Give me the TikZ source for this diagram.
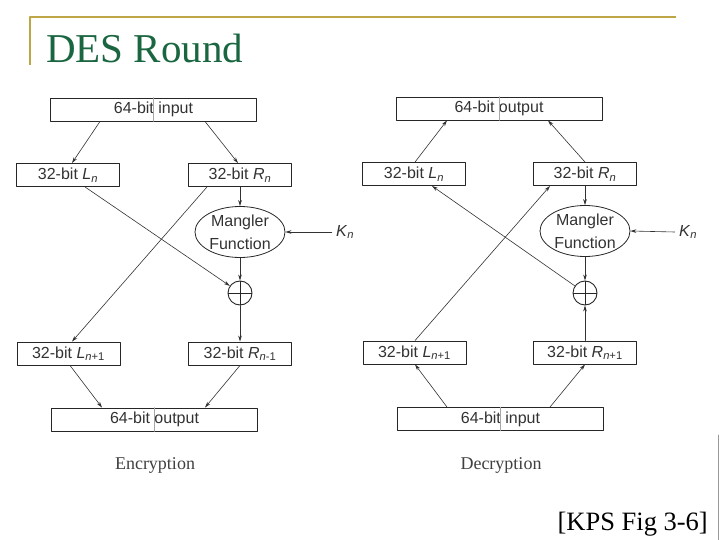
\documentclass[tikz,border=0pt]{standalone}
\usepackage{fontspec}
\setmainfont{Liberation Serif}
\setsansfont{Liberation Sans}
\usetikzlibrary{arrows.meta,shapes.geometric}
\definecolor{titlegreen}{RGB}{26,102,64}
\definecolor{slidegold}{RGB}{190,165,70}
\definecolor{scan}{RGB}{50,50,50}
\newcommand\half[2]{\textit{#1}\textsubscript{#2}}

\begin{document}
\begin{tikzpicture}[x=1pt,y=-1pt,line cap=round,line join=round,
    box/.style={draw=black!85,line width=.9pt,minimum width=103pt,minimum height=23pt,
      inner sep=0pt,text=scan,font=\sffamily\fontsize{16}{18}\selectfont},
    wide/.style={box,minimum width=206pt},
    mangler/.style={ellipse,draw=black!85,line width=.8pt,minimum width=90pt,minimum height=51pt,
      inner sep=0pt,align=center,text=scan,font=\sffamily\fontsize{16}{23}\selectfont},
    xor/.style={circle,draw=black!85,line width=.9pt,minimum size=24pt,inner sep=0pt,
      path picture={\draw[line width=.9pt,black!85]
        (path picture bounding box.north) -- (path picture bounding box.south)
        (path picture bounding box.west) -- (path picture bounding box.east);}},
    key/.style={inner sep=4pt,text=scan,font=\sffamily\fontsize{16}{18}\selectfont},
    flow/.style={draw=scan,line width=.6pt,-{Stealth[length=6pt,width=3.6pt]}},
    divider/.style={draw=black!35,line width=.4pt},
    caption/.style={text=black!75,font=\fontsize{18}{20}\selectfont}]
  \useasboundingbox (0,0) rectangle (720,540);

  % slide frame and title
  \draw[slidegold,line width=1.6pt,line cap=butt] (30,65) -- (30,17) -- (676,17);
  \node[anchor=base west,text=titlegreen,font=\fontsize{41}{43}\selectfont,inner sep=0pt]
    (title) at (46,63) {DES Round};
  \draw[black!40,line width=.6pt] (718,435) -- (718,540);

  % encryption
  \node[wide] (encin) at (153.5,109.5) {64-bit input};
  \node[box] (eln) at (68,175) {32-bit \half{L}{\textit{n}}};
  \node[box] (ern) at (240,175) {32-bit \half{R}{\textit{n}}};
  \node[mangler] (emf) at (240,232) {Mangler\\Function};
  \node[key] (ekn) at (345,232) {\half{K}{\textit{n}}};
  \node[xor] (exor) at (240,293) {};
  \node[box] (eln1) at (68.5,353.5) {32-bit \half{L}{\textit{n}+1}};
  \node[box] (ern1) at (240,353.5) {32-bit \half{R}{\textit{n}-1}};
  \node[wide] (eout) at (154.5,419.5) {64-bit output};
  \node[caption] (enc) at (155,465) {Encryption};
  \draw[divider] (encin.north) -- (encin.south) (eout.north) -- (eout.south);

  \draw[flow] ([xshift=-53.5pt]encin.south) -- ([xshift=4pt]eln.north);
  \draw[flow] ([xshift=51.5pt]encin.south) -- ([xshift=-2pt]ern.north);
  \draw[flow] (ern.south) -- (emf.north);
  \draw[flow] (ekn.west) -- (emf.east);
  \draw[flow] (emf.south) -- (exor.north);
  \draw[flow] ([xshift=17pt]eln.south) -- (exor.145);
  \draw[flow] ([xshift=-33pt]ern.south) -- ([xshift=3.5pt]eln1.north);
  \draw[flow] (exor.south) -- (ern1.north);
  \draw[flow] ([xshift=1.5pt]eln1.south) -- ([xshift=-52.5pt]eout.north);
  \draw[flow] (ern1.south) -- ([xshift=50.5pt]eout.north);

  % decryption
  \node[wide] (dout) at (499,108.5) {64-bit output};
  \node[box] (dln) at (414,174) {32-bit \half{L}{\textit{n}}};
  \node[box] (drn) at (585,174) {32-bit \half{R}{\textit{n}}};
  \node[mangler] (dmf) at (585,231) {Mangler\\Function};
  \node[key] (dkn) at (688,232) {\half{K}{\textit{n}}};
  \node[xor] (dxor) at (585,293) {};
  \node[box] (dln1) at (414.5,352.5) {32-bit \half{L}{\textit{n}+1}};
  \node[box] (drn1) at (585,352.5) {32-bit \half{R}{\textit{n}+1}};
  \node[wide] (din) at (500.5,419) {64-bit input};
  \node[caption] (dec) at (501,465) {Decryption};
  \draw[divider] (dout.north) -- (dout.south) (din.north) -- (din.south);

  \draw[flow] ([xshift=1pt]dln.north) -- ([xshift=-52pt]dout.south);
  \draw[flow] (drn.north) -- ([xshift=49pt]dout.south);
  \draw[flow] (drn.south) -- (dmf.north);
  \draw[flow] (dkn.west) -- (dmf.east);
  \draw[flow] (dmf.south) -- (dxor.north);
  \draw[flow] (dxor.145) -- ([xshift=18pt]dln.south);
  \draw[flow] ([xshift=.5pt]dln1.north) -- ([xshift=-35pt]drn.south);
  \draw[flow] (drn1.north) -- (dxor.south);
  \draw[flow] ([xshift=-53.5pt]din.north) -- ([xshift=.5pt]dln1.south);
  \draw[flow] ([xshift=49.5pt]din.north) -- (drn1.south);

  \node[anchor=base east,inner sep=0pt,font=\fontsize{26.5}{30}\selectfont]
    (source) at (708,530) {[KPS Fig 3-6]};
\end{tikzpicture}
\end{document}
